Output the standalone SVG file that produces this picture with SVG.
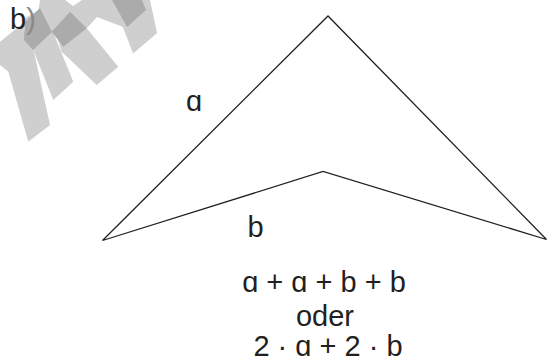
<svg xmlns="http://www.w3.org/2000/svg" width="547" height="360" viewBox="0 0 547 360">
<style>
.t{font-family:"Liberation Sans","Arial",sans-serif;font-size:29px;fill:#231f20}
.wl{fill:#cfcfcf}
.wd{fill:#ababab}
</style>
<rect width="547" height="360" fill="#ffffff"/>
<g id="watermark">
<polygon class="wl" points="0,41.7 22,24 34,52 50,125 28.3,141.7 8.3,71.7 0,65"/>
<polygon class="wl" points="53.3,100 21.3,20 43.3,8 73.3,81.7"/>
<polygon class="wl" points="96.7,85 61.7,51.7 55,30 86.7,28.3 118.3,66.7"/>
<polygon class="wl" points="40,0 65,0 73,6 82,0 150,0 157,33 133,53 123,27 97,17 87,28 52,32 38,14"/>
<polygon class="wl" points="133.3,53.3 156.7,33.3 146.7,0 115,0 123,27"/>
<polygon class="wd" points="25,22 40,8 52,32 33,50 24,40"/>
<polygon class="wd" points="51.7,31.7 70,11.7 86.7,28.3 63.3,46.7"/>
<polygon class="wd" points="112,0 142,0 146,10 127,27"/>
</g>
<g id="label-b-part">
<text class="t" x="10" y="29.3" font-size="28">b<tspan fill="#8a8a8a">)</tspan></text>
</g>
<g id="figure">
<polygon points="102.5,240.5 328,16 546.5,239.5 323,171.5" fill="none" stroke="#231f20" stroke-width="1.3" stroke-linejoin="miter"/>
</g>
<g id="label-a"><text class="t" x="194" y="111" text-anchor="middle">ɑ</text></g>
<g id="label-b"><text class="t" x="255.5" y="237" text-anchor="middle">b</text></g>
<g id="formula">
<text class="t" x="324" y="291.5" text-anchor="middle">ɑ + ɑ + b + b</text>
<text class="t" x="325" y="326" text-anchor="middle">oder</text>
<text class="t" x="328" y="355.5" text-anchor="middle">2 · ɑ + 2 · b</text>
</g>
</svg>
